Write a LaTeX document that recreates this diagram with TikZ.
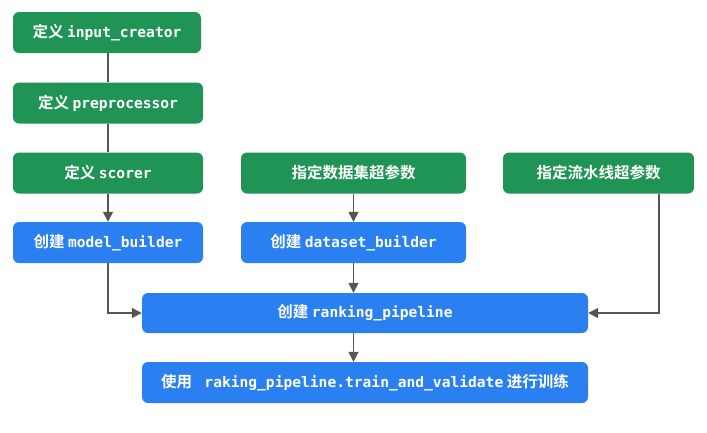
\documentclass[tikz,border=0pt]{standalone}
\usepackage{fontspec}
\setmainfont{Noto Sans CJK SC}
\newfontfamily\cjkb{Noto Sans CJK SC Bold}
\newfontfamily\codef{DejaVu Sans Mono}[Scale=1]
\usetikzlibrary{arrows.meta}
\definecolor{gbox}{HTML}{1F9455}
\definecolor{bbox}{HTML}{2A80F0}
\definecolor{lnc}{HTML}{555555}
\newcommand{\cd}[1]{{\codef\bfseries\fontsize{14.6}{16}\selectfont #1}}
\tikzset{
  box/.style={rounded corners=6pt, minimum height=41pt, inner sep=0pt, text=white,
     font=\cjkb\fontsize{15.5}{18}\selectfont, draw=none},
  gbx/.style={box, fill=gbox},
  bbx/.style={box, fill=bbox},
  conn/.style={draw=lnc, line width=1.5pt},
  arr/.style={conn, -{Triangle[length=10pt,width=10pt]}}
}
\begin{document}
\begin{tikzpicture}[x=1pt,y=-1pt]
\useasboundingbox (0,0) rectangle (707,432);
\node[gbx, minimum width=188pt] (b1) at (107,32.5) {定义 \cd{input\_creator}};
\node[gbx, minimum width=190pt] (b2) at (108,103) {定义 \cd{preprocessor}};
\node[gbx, minimum width=190pt] (b3) at (108,173) {定义 \cd{scorer}};
\node[bbx, minimum width=190pt] (b4) at (108,242.5) {创建 \cd{model\_builder}};
\node[gbx, minimum width=225pt] (b5) at (353.5,173) {指定数据集超参数};
\node[bbx, minimum width=225pt] (b6) at (353.5,242.5) {创建 \cd{dataset\_builder}};
\node[gbx, minimum width=191pt] (b7) at (598.5,173) {指定流水线超参数};
\node[bbx, minimum width=446pt, minimum height=40pt] (b8) at (365,313) {创建 \cd{ranking\_pipeline}};
\node[bbx, minimum width=446pt] (b9) at (365,382.5) {使用 \cd{ raking\_pipeline.train\_and\_validate} 进行训练};
\draw[conn] (b1.south -| b2) -- (b2.north);
\draw[conn] (b2.south) -- (b3.north);
\draw[arr] (b3.south) -- (b4.north);
\draw[arr] (b5.south) -- (b6.north);
\draw[arr] (b6.south) -- (b6.south |- b8.north);
\draw[arr] (b6.south |- b8.south) -- (b6.south |- b9.north);
\draw[arr] (b4.south) |- (b8.west);
\draw[arr] ([xshift=60.5pt]b7.south) |- (b8.east);
\end{tikzpicture}
\end{document}
